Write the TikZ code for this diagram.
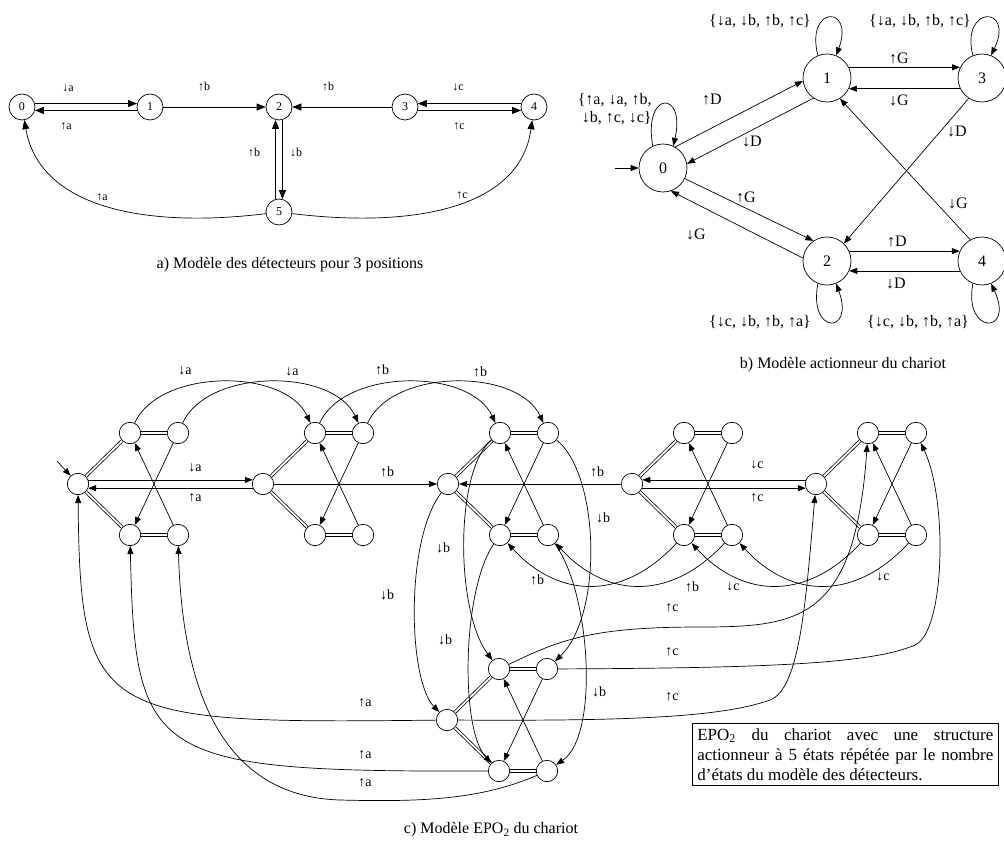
\documentclass[tikz,border=0pt]{standalone}
\usepackage{fontspec}
\setmainfont{Liberation Serif}
\usetikzlibrary{arrows.meta}

\begin{document}
\begin{tikzpicture}[x=1pt, y=-1pt, line width=0.7pt, line join=round, >={Triangle[length=8pt,width=6pt]},
  ast/.style={circle, draw, minimum size=26pt, inner sep=0pt, font=\fontsize{12}{14}\selectfont},
  bst/.style={circle, draw, minimum size=48pt, inner sep=0pt, font=\fontsize{16}{18}\selectfont},
  cst/.style={circle, draw, fill=white, minimum size=21.4pt, inner sep=0pt},
  alab/.style={font=\fontsize{12}{14}\selectfont, inner sep=1pt},
  blab/.style={font=\fontsize{16}{18}\selectfont, inner sep=1pt},
  clab/.style={font=\fontsize{14}{16}\selectfont, inner sep=1pt},
  capt/.style={font=\fontsize{16}{18}\selectfont},
  dbl/.style={double, double distance=1.8pt, line width=0.75pt},
  aarr/.style={-{Triangle[length=9pt,width=7pt]}}]
  \useasboundingbox (0,0) rectangle (1004,845);

  % a) detecteurs
  \node[ast] (a0) at (22,107) {0};
  \node[ast] (a1) at (150,107) {1};
  \node[ast] (a2) at (279,107) {2};
  \node[ast] (a3) at (405,107) {3};
  \node[ast] (a4) at (534,107) {4};
  \node[ast] (a5) at (279,212) {5};
  \draw[aarr] (a0.15) -- (a1.165);
  \draw[aarr] (a1.195) -- (a0.345);
  \draw[aarr] (a1) -- (a2);
  \draw[aarr] (a3) -- (a2);
  \draw[aarr] (a4.165) -- (a3.15);
  \draw[aarr] (a3.345) -- (a4.195);
  \draw[aarr] (a2.285) -- (a5.75);
  \draw[aarr] (a5.105) -- (a2.255);
  \draw[aarr] (a5) .. controls (150,228) and (40,210) .. (a0);
  \draw[aarr] (a5) .. controls (410,228) and (520,210) .. (a4);
  \node[alab] (la1) at (68,88) {↓a};
  \node[alab] (la2) at (66,126) {↑a};
  \node[alab] (la3) at (204,87) {↑b};
  \node[alab] (la4) at (328,87) {↑b};
  \node[alab] (la5) at (458,87) {↓c};
  \node[alab] (la6) at (459,126) {↑c};
  \node[alab] (la7) at (254,153) {↑b};
  \node[alab] (la8) at (296,153) {↓b};
  \node[alab] (la9) at (102,197) {↑a};
  \node[alab] (la10) at (462,195) {↑c};
  \node[capt] (capa) at (290,265) {a) Modèle des détecteurs pour 3 positions};

  % b) actionneur
  \node[bst] (b0) at (663,168) {0};
  \node[bst] (b1) at (827,78) {1};
  \node[bst] (b3) at (982,78) {3};
  \node[bst] (b2) at (827,261) {2};
  \node[bst] (b4) at (982,261) {4};
  \coordinate (binit) at (615,168);
  \draw[->] (binit) -- (b0);
  \draw[->] (b0.60) -- (b1.187);
  \draw[->] (b1.236) -- (b0.10);
  \draw[->] (b0.334) -- (b2.124);
  \draw[->] (b2.173) -- (b0.289);
  \draw[->] (b1.26) -- (b3.154);
  \draw[->] (b3.206) -- (b1.334);
  \draw[->] (b2.24) -- (b4.156);
  \draw[->] (b4.204) -- (b2.336);
  \draw[->] (b3.237) -- (b2.46);
  \draw[->] (b4.119) -- (b1.302);
  \draw[->] (b0.115) .. controls (643,90) and (686,90) .. (b0.65);
  \draw[->] (b1.112) .. controls (805,5) and (855,5) .. (b1.68);
  \draw[->] (b3.112) .. controls (960,5) and (1015,5) .. (b3.68);
  \draw[->] (b2.248) .. controls (808,335) and (855,335) .. (b2.292);
  \draw[->] (b4.248) .. controls (963,335) and (1015,335) .. (b4.292);
  \node[blab] (lb1) at (712,100) {↑D};
  \node[blab] (lb2) at (752,142) {↓D};
  \node[blab] (lb3) at (746,197) {↑G};
  \node[blab] (lb4) at (696,234) {↓G};
  \node[blab] (lb5) at (899,58) {↑G};
  \node[blab] (lb6) at (899,100) {↓G};
  \node[blab] (lb7) at (957,132) {↓D};
  \node[blab] (lb8) at (958,203) {↓G};
  \node[blab] (lb9) at (897,242) {↑D};
  \node[blab] (lb10) at (896,283) {↓D};
  \node[blab] (lb11) at (760,21) {\{↓a, ↓b, ↑b, ↑c\}};
  \node[blab] (lb12) at (920,21) {\{↓a, ↓b, ↑b, ↑c\}};
  \node[blab, align=right, anchor=east] (lb13) at (653,109) {\{↑a, ↓a, ↑b,\\↓b, ↑c, ↓c\}};
  \node[blab] (lb14) at (760,322) {\{↓c, ↓b, ↑b, ↑a\}};
  \node[blab] (lb15) at (918,322) {\{↓c, ↓b, ↑b, ↑a\}};
  \node[capt] (capb) at (843,365) {b) Modèle actionneur du chariot};

  % c) EPO2
  \node[cst] (s00) at (78,484) {};
  \node[cst] (s01) at (130,433) {};
  \node[cst] (s03) at (178,433) {};
  \node[cst] (s02) at (130,535) {};
  \node[cst] (s04) at (178,535) {};
  \node[cst] (s10) at (263,484) {};
  \node[cst] (s11) at (315,433) {};
  \node[cst] (s13) at (363,433) {};
  \node[cst] (s12) at (315,535) {};
  \node[cst] (s14) at (363,535) {};
  \node[cst] (s20) at (448,484) {};
  \node[cst] (s21) at (500,433) {};
  \node[cst] (s23) at (548,433) {};
  \node[cst] (s22) at (500,535) {};
  \node[cst] (s24) at (548,535) {};
  \node[cst] (s30) at (632,484) {};
  \node[cst] (s31) at (684,433) {};
  \node[cst] (s33) at (732,433) {};
  \node[cst] (s32) at (684,535) {};
  \node[cst] (s34) at (732,535) {};
  \node[cst] (s40) at (816,484) {};
  \node[cst] (s41) at (868,433) {};
  \node[cst] (s43) at (916,433) {};
  \node[cst] (s42) at (868,535) {};
  \node[cst] (s44) at (916,535) {};
  \node[cst] (s50) at (447,720) {};
  \node[cst] (s51) at (499,669) {};
  \node[cst] (s53) at (547,669) {};
  \node[cst] (s52) at (499,771) {};
  \node[cst] (s54) at (547,771) {};

  \draw[dbl] (s00) -- (s01); \draw[dbl] (s01) -- (s03); \draw[dbl] (s00) -- (s02); \draw[dbl] (s02) -- (s04);
  \draw[->] (s03) -- (s02); \draw[->] (s04) -- (s01);
  \draw[dbl] (s10) -- (s11); \draw[dbl] (s11) -- (s13); \draw[dbl] (s10) -- (s12); \draw[dbl] (s12) -- (s14);
  \draw[->] (s13) -- (s12); \draw[->] (s14) -- (s11);
  \draw[dbl] (s20) -- (s21); \draw[dbl] (s21) -- (s23); \draw[dbl] (s20) -- (s22); \draw[dbl] (s22) -- (s24);
  \draw[->] (s23) -- (s22); \draw[->] (s24) -- (s21);
  \draw[dbl] (s30) -- (s31); \draw[dbl] (s31) -- (s33); \draw[dbl] (s30) -- (s32); \draw[dbl] (s32) -- (s34);
  \draw[->] (s33) -- (s32); \draw[->] (s34) -- (s31);
  \draw[dbl] (s40) -- (s41); \draw[dbl] (s41) -- (s43); \draw[dbl] (s40) -- (s42); \draw[dbl] (s42) -- (s44);
  \draw[->] (s43) -- (s42); \draw[->] (s44) -- (s41);
  \draw[dbl] (s50) -- (s51); \draw[dbl] (s51) -- (s53); \draw[dbl] (s50) -- (s52); \draw[dbl] (s52) -- (s54);
  \draw[->] (s53) -- (s52); \draw[->] (s54) -- (s51);

  \coordinate (cinit) at (57,461);
  \draw[->] (cinit) -- (s00);
  \draw[->] (s00.22) -- (s10.158);
  \draw[->] (s10.202) -- (s00.338);
  \draw[->] (s10) -- (s20);
  \draw[->] (s30) -- (s20);
  \draw[->] (s40.158) -- (s30.22);
  \draw[->] (s30.338) -- (s40.202);
  \draw[->] (s01) .. controls (160,368) and (285,368) .. (s11);
  \draw[->] (s03) .. controls (208,368) and (333,368) .. (s13);
  \draw[->] (s11) .. controls (345,368) and (470,368) .. (s21);
  \draw[->] (s13) .. controls (393,368) and (518,368) .. (s23);
  \draw[->] (s20) .. controls (405,540) and (408,680) .. (s50);
  \draw[->] (s21) .. controls (455,470) and (455,610) .. (s51);
  \draw[->] (s22) .. controls (462,590) and (460,730) .. (s52);
  \draw[->] (s23) .. controls (600,475) and (603,615) .. (s53);
  \draw[->] (s24) .. controls (590,590) and (600,735) .. (s54);
  \draw[->] (s32) .. controls (624,600) and (560,600) .. (s22);
  \draw[->] (s34) .. controls (672,600) and (608,600) .. (s24);
  \draw[->] (s42) .. controls (808,600) and (744,600) .. (s32);
  \draw[->] (s44) .. controls (856,600) and (792,600) .. (s34);
  \draw[->] (s50) .. controls (100,724) and (80,720) .. (s00);
  \draw[->] (s52) .. controls (150,772) and (135,760) .. (s02);
  \draw[->] (s54) .. controls (480,800) and (420,802) .. (340,800) .. controls (240,797) and (183,720) .. (s04);
  \draw[->] (s51) .. controls (560,640) and (590,627) .. (700,627) .. controls (800,627) and (855,620) .. (s41);
  \draw[->] (s53) .. controls (750,668) and (870,665) .. (915,645) .. controls (945,632) and (948,500) .. (s43);
  \draw[->] (s50) .. controls (620,721) and (720,718) .. (770,700) .. controls (800,689) and (806,600) .. (s40);

  \node[clab] (lc1) at (185,371) {↓a};
  \node[clab] (lc2) at (292,372) {↓a};
  \node[clab] (lc3) at (382,370) {↑b};
  \node[clab] (lc4) at (480,372) {↑b};
  \node[clab] (lc5) at (195,468) {↓a};
  \node[clab] (lc6) at (195,498) {↑a};
  \node[clab] (lc7) at (387,472) {↑b};
  \node[clab] (lc8) at (597,472) {↑b};
  \node[clab] (lc9) at (757,465) {↓c};
  \node[clab] (lc10) at (757,498) {↑c};
  \node[clab] (lc11) at (443,548) {↓b};
  \node[clab] (lc12) at (387,595) {↓b};
  \node[clab] (lc13) at (445,640) {↓b};
  \node[clab] (lc14) at (603,518) {↓b};
  \node[clab] (lc15) at (599,692) {↓b};
  \node[clab] (lc16) at (537,580) {↑b};
  \node[clab] (lc17) at (692,587) {↑b};
  \node[clab] (lc18) at (733,587) {↓c};
  \node[clab] (lc19) at (883,577) {↓c};
  \node[clab] (lc20) at (672,608) {↑c};
  \node[clab] (lc21) at (672,652) {↑c};
  \node[clab] (lc22) at (672,697) {↑c};
  \node[clab] (lc23) at (365,703) {↑a};
  \node[clab] (lc24) at (365,755) {↑a};
  \node[clab] (lc25) at (365,783) {↑a};

  \node[draw, anchor=north west, text width=296pt, inner sep=5pt, align=justify, font=\fontsize{17}{20}\selectfont] (note) at (692,723)
    {EPO\textsubscript{2} du chariot avec une structure\linebreak actionneur à 5 états répétée par le nombre\linebreak d’états du modèle des détecteurs.};
  \node[capt] (capc) at (491,830) {c) Modèle EPO\textsubscript{2} du chariot};
\end{tikzpicture}
\end{document}
